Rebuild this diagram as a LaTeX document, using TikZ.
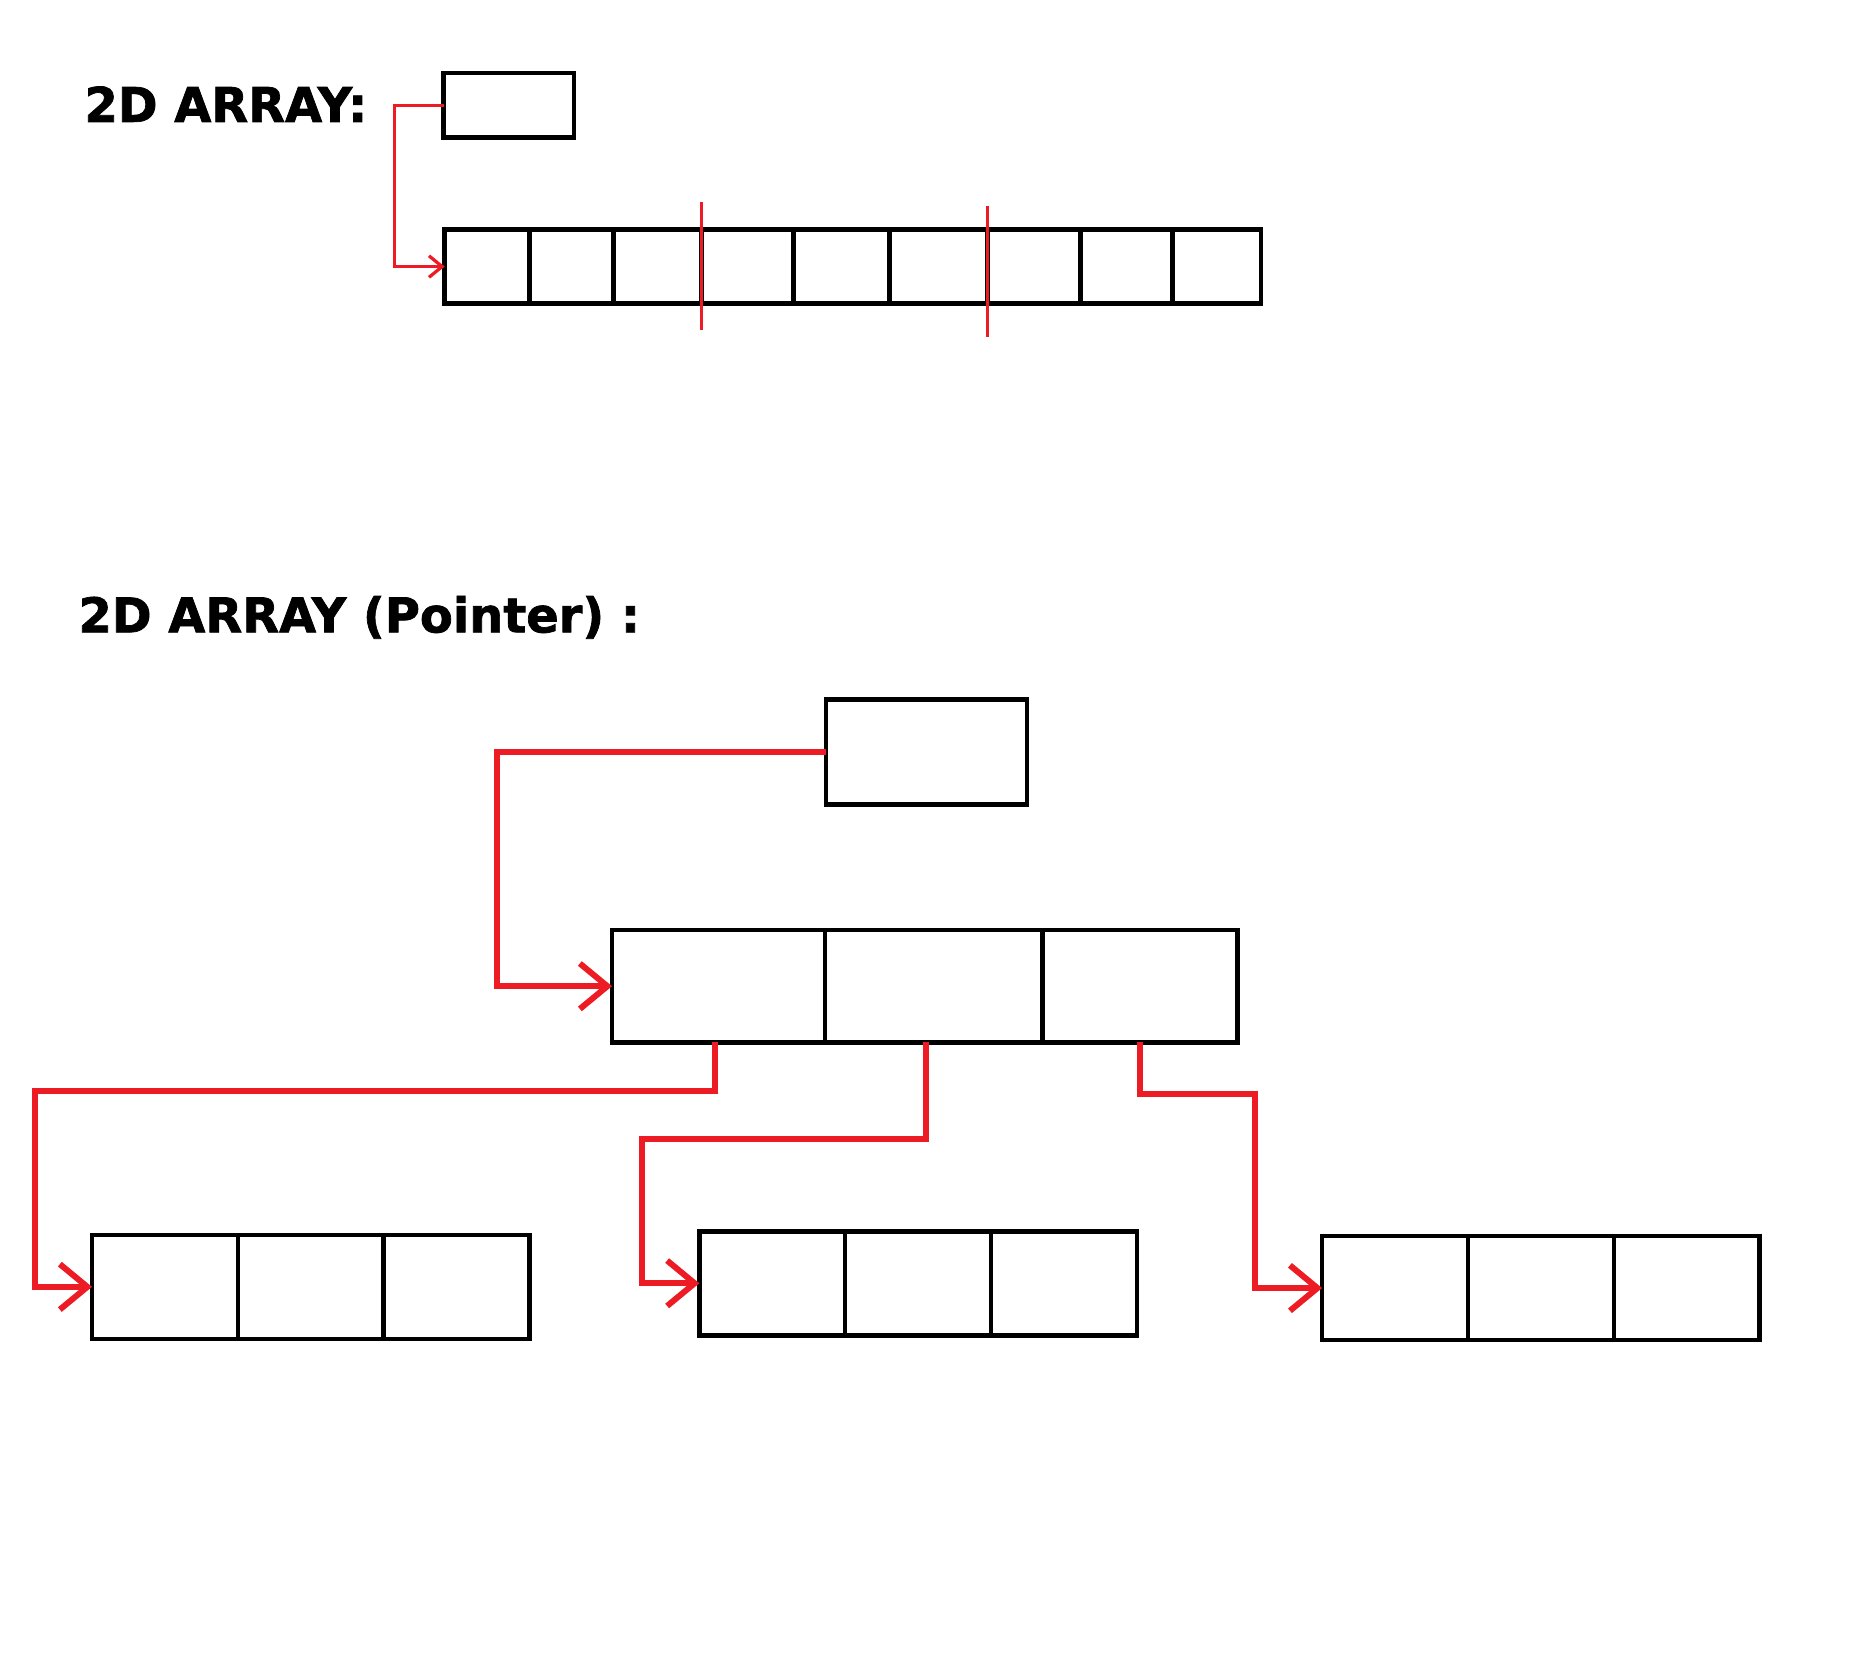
\documentclass[tikz,border=0pt]{standalone}
\usepackage{fontspec}
\newfontfamily\headfont{DejaVu Sans}[BoldFeatures={FakeBold=1.5}]
\usetikzlibrary{positioning, arrows.meta}
\definecolor{paintred}{RGB}{237,28,36}

\begin{document}
\begin{tikzpicture}[x=0.1mm, y=-0.1mm,
  cell/.style = {draw, rectangle, line width=0.38mm, inner sep=0pt, outer sep=0pt},
  head/.style = {font=\headfont\bfseries\fontsize{11.4}{13}\selectfont, anchor=base west, inner sep=0pt},
  link/.style = {draw=paintred, line width=0.27mm, -{Straight Barb[length=1.1mm, width=1.8mm]}},
  fat/.style = {draw=paintred, line width=0.5mm, -{Straight Barb[length=2.3mm, width=3.8mm]}},
  cut/.style = {draw=paintred, line width=0.27mm}]
\useasboundingbox (0,0) rectangle (1566,1382);

% flat array
\node[head] (t1) at (70,102) {2D ARRAY:};
\node[cell, minimum width=10.9mm, minimum height=5.4mm] (p1) at (425.5,88) {};
\node[cell, minimum width=7.1mm, minimum height=6.2mm, anchor=west] (v1) at (372,223) {};
\foreach \i/\j/\w in {2/1/7.0mm, 3/2/7.4mm, 4/3/7.7mm, 5/4/8.0mm, 6/5/8.2mm, 7/6/7.8mm, 8/7/7.7mm, 9/8/7.4mm}
  \node[cell, minimum width=\w, minimum height=6.2mm, right=0mm of v\j] (v\i) {};
\draw[cut] ([yshift=2.3mm]v3.north east) -- ([yshift=-2.2mm]v3.south east);
\draw[cut] ([yshift=2.0mm]v6.north east) -- ([yshift=-2.8mm]v6.south east);
\draw[link] (p1.west) -- ++(-4.1mm,0) |- (v1.west);

% pointer array
\node[head] (t2) at (65,529) {2D ARRAY (Pointer) :};
\node[cell, minimum width=16.8mm, minimum height=8.8mm] (p2) at (775,629) {};
\node[cell, minimum width=17.8mm, minimum height=9.4mm, anchor=west] (m1) at (512,825) {};
\node[cell, minimum width=18.2mm, minimum height=9.4mm, right=0mm of m1] (m2) {};
\node[cell, minimum width=16.3mm, minimum height=9.4mm, right=0mm of m2] (m3) {};
\foreach \r/\x/\y in {a/77/1076.5, b/585/1073.5, c/1106/1077.5} {
  \node[cell, minimum width=12.2mm, minimum height=8.7mm, anchor=west] (\r1) at (\x,\y) {};
  \node[cell, minimum width=12.2mm, minimum height=8.7mm, right=0mm of \r1] (\r2) {};
  \node[cell, minimum width=12.2mm, minimum height=8.7mm, right=0mm of \r2] (\r3) {};
}
\draw[fat] (p2.west) -- ++(-27.5mm,0) |- (m1.west);
\draw[fat] ([xshift=-0.3mm]m1.south) -- ++(0,-4.1mm) -- ++(-56.9mm,0) |- (a1.west);
\draw[fat] ([xshift=-0.6mm]m2.south) -- ++(0,-8.1mm) -- ++(-23.8mm,0) |- (b1.west);
\draw[fat] (m3.south) -- ++(0,-4.3mm) -- ++(9.6mm,0) |- (c1.west);
\end{tikzpicture}
\end{document}
